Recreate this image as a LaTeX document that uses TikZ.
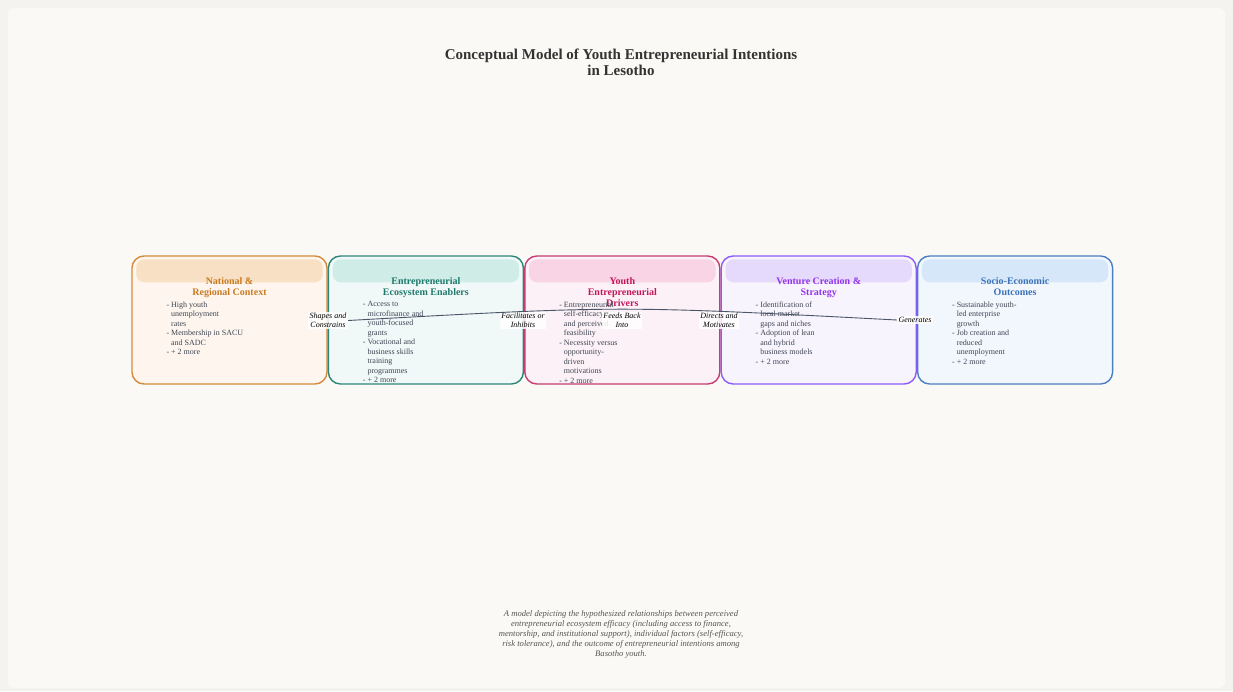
\documentclass[tikz,border=0pt]{standalone}
\usepackage{fontspec}
\setmainfont{Liberation Serif}
\usepackage{tikz}
\usetikzlibrary{calc, positioning}

\definecolor{pagebg}{HTML}{F4F3F0}
\definecolor{panelbg}{HTML}{FAF9F6}
\definecolor{titlecol}{HTML}{333333}
\definecolor{bodycol}{HTML}{3F4654}
\definecolor{linkcol}{HTML}{4A5568}
\definecolor{capcol}{HTML}{555555}
\definecolor{ctxline}{HTML}{D58B3A}\definecolor{ctxfill}{HTML}{FEF6EE}\definecolor{ctxhead}{HTML}{F8E0C5}\definecolor{ctxtext}{HTML}{C97B22}
\definecolor{ecoline}{HTML}{2C8577}\definecolor{ecofill}{HTML}{F0F9F8}\definecolor{ecohead}{HTML}{CFECE7}\definecolor{ecotext}{HTML}{1F7A6C}
\definecolor{drvline}{HTML}{C63D72}\definecolor{drvfill}{HTML}{FCF1F6}\definecolor{drvhead}{HTML}{F8D4E4}\definecolor{drvtext}{HTML}{C2185B}
\definecolor{venline}{HTML}{8B5CF6}\definecolor{venfill}{HTML}{F8F4FE}\definecolor{venhead}{HTML}{E6DAFC}\definecolor{ventext}{HTML}{9333EA}
\definecolor{socline}{HTML}{4B7FC0}\definecolor{socfill}{HTML}{F2F7FD}\definecolor{sochead}{HTML}{D6E7FA}\definecolor{soctext}{HTML}{3B73B9}

\newcommand{\cont}{\hphantom{- }}

\begin{document}
\begin{tikzpicture}[x=1pt, y=1pt,
    stage/.style={rectangle, rounded corners=12pt, line width=1.4pt, minimum width=195pt, minimum height=128pt, inner sep=0pt},
    stagetitle/.style={anchor=north, align=center, inner sep=0pt, font=\fontsize{10}{11}\selectfont\bfseries},
    stagelist/.style={anchor=north west, align=left, inner sep=0pt, text=bodycol, font=\fontsize{8}{9.5}\selectfont},
    linklabel/.style={fill=white, fill opacity=0.85, text opacity=1, align=center, inner sep=1.5pt, font=\fontsize{8}{9}\selectfont\itshape},
    link/.style={linkcol, line width=0.9pt}]

    % background
    \useasboundingbox (0,0) rectangle (1233,-691);
    \fill[pagebg] (0,0) rectangle (1233,-691);
    \fill[panelbg, rounded corners=6pt] (8,-8) rectangle (1225,-688);

    % title
    \node[font=\fontsize{15}{16}\selectfont\bfseries, text=titlecol, align=center] (title) at (621,-62)
        {Conceptual Model of Youth Entrepreneurial Intentions\\in Lesotho};

    % the five stages
    \node[stage, draw=ctxline, fill=ctxfill] (ctx) at (229.5,-320) {};
    \node[stage, draw=ecoline, fill=ecofill, right=0pt of ctx] (eco) {};
    \node[stage, draw=drvline, fill=drvfill, right=0pt of eco] (drv) {};
    \node[stage, draw=venline, fill=venfill, right=0pt of drv] (ven) {};
    \node[stage, draw=socline, fill=socfill, right=0pt of ven] (soc) {};

    \foreach \s in {ctx, eco, drv, ven, soc}
        \fill[\s head, rounded corners=8pt] ($(\s.north west)+(5,-4)$) rectangle ($(\s.north east)+(-5,-27)$);

    \node[stagetitle, text=ctxtext] (ctxtitle) at ($(ctx.north)+(0,-22)$) {National \&\\Regional Context};
    \node[stagetitle, text=ecotext] (ecotitle) at ($(eco.north)+(0,-22)$) {Entrepreneurial\\Ecosystem Enablers};
    \node[stagetitle, text=drvtext] (drvtitle) at ($(drv.north)+(0,-22)$) {Youth\\Entrepreneurial\\Drivers};
    \node[stagetitle, text=ventext] (ventitle) at ($(ven.north)+(0,-22)$) {Venture Creation \&\\Strategy};
    \node[stagetitle, text=soctext] (soctitle) at ($(soc.north)+(0,-22)$) {Socio-Economic\\Outcomes};

    \node[stagelist] (ctxlist) at ($(ctx.north west)+(35,-46)$)
        {- High youth\\\cont unemployment\\\cont rates\\- Membership in SACU\\\cont and SADC\\- + 2 more};
    \node[stagelist] (ecolist) at ($(eco.north west)+(35,-46)$)
        {- Access to\\\cont microfinance and\\\cont youth-focused\\\cont grants\\- Vocational and\\\cont business skills\\\cont training\\\cont programmes\\- + 2 more};
    \node[stagelist] (drvlist) at ($(drv.north west)+(35,-46)$)
        {- Entrepreneurial\\\cont self-efficacy\\\cont and perceived\\\cont feasibility\\- Necessity versus\\\cont opportunity-\\\cont driven\\\cont motivations\\- + 2 more};
    \node[stagelist] (venlist) at ($(ven.north west)+(35,-46)$)
        {- Identification of\\\cont local market\\\cont gaps and niches\\- Adoption of lean\\\cont and hybrid\\\cont business models\\- + 2 more};
    \node[stagelist] (soclist) at ($(soc.north west)+(35,-46)$)
        {- Sustainable youth-\\\cont led enterprise\\\cont growth\\- Job creation and\\\cont reduced\\\cont unemployment\\- + 2 more};

    % relation labels
    \node[linklabel] (shapes) at (328,-320.5) {Shapes and\\Constrains};
    \node[linklabel] (facil) at (523,-320.5) {Facilitates or\\Inhibits};
    \node[linklabel] (feeds) at (622,-320.5) {Feeds Back\\Into};
    \node[linklabel] (directs) at (719,-320.5) {Directs and\\Motivates};
    \node[linklabel] (gener) at (915,-320) {Generates};

    \draw[link] (shapes.east) .. controls (620,-305.5) .. (gener.west);

    % caption
    \node[font=\fontsize{8.6}{10}\selectfont\itshape, text=capcol, align=center] (caption) at (621,-634)
        {A model depicting the hypothesized relationships between perceived\\
         entrepreneurial ecosystem efficacy (including access to finance,\\
         mentorship, and institutional support), individual factors (self-efficacy,\\
         risk tolerance), and the outcome of entrepreneurial intentions among\\
         Basotho youth.};
\end{tikzpicture}
\end{document}
